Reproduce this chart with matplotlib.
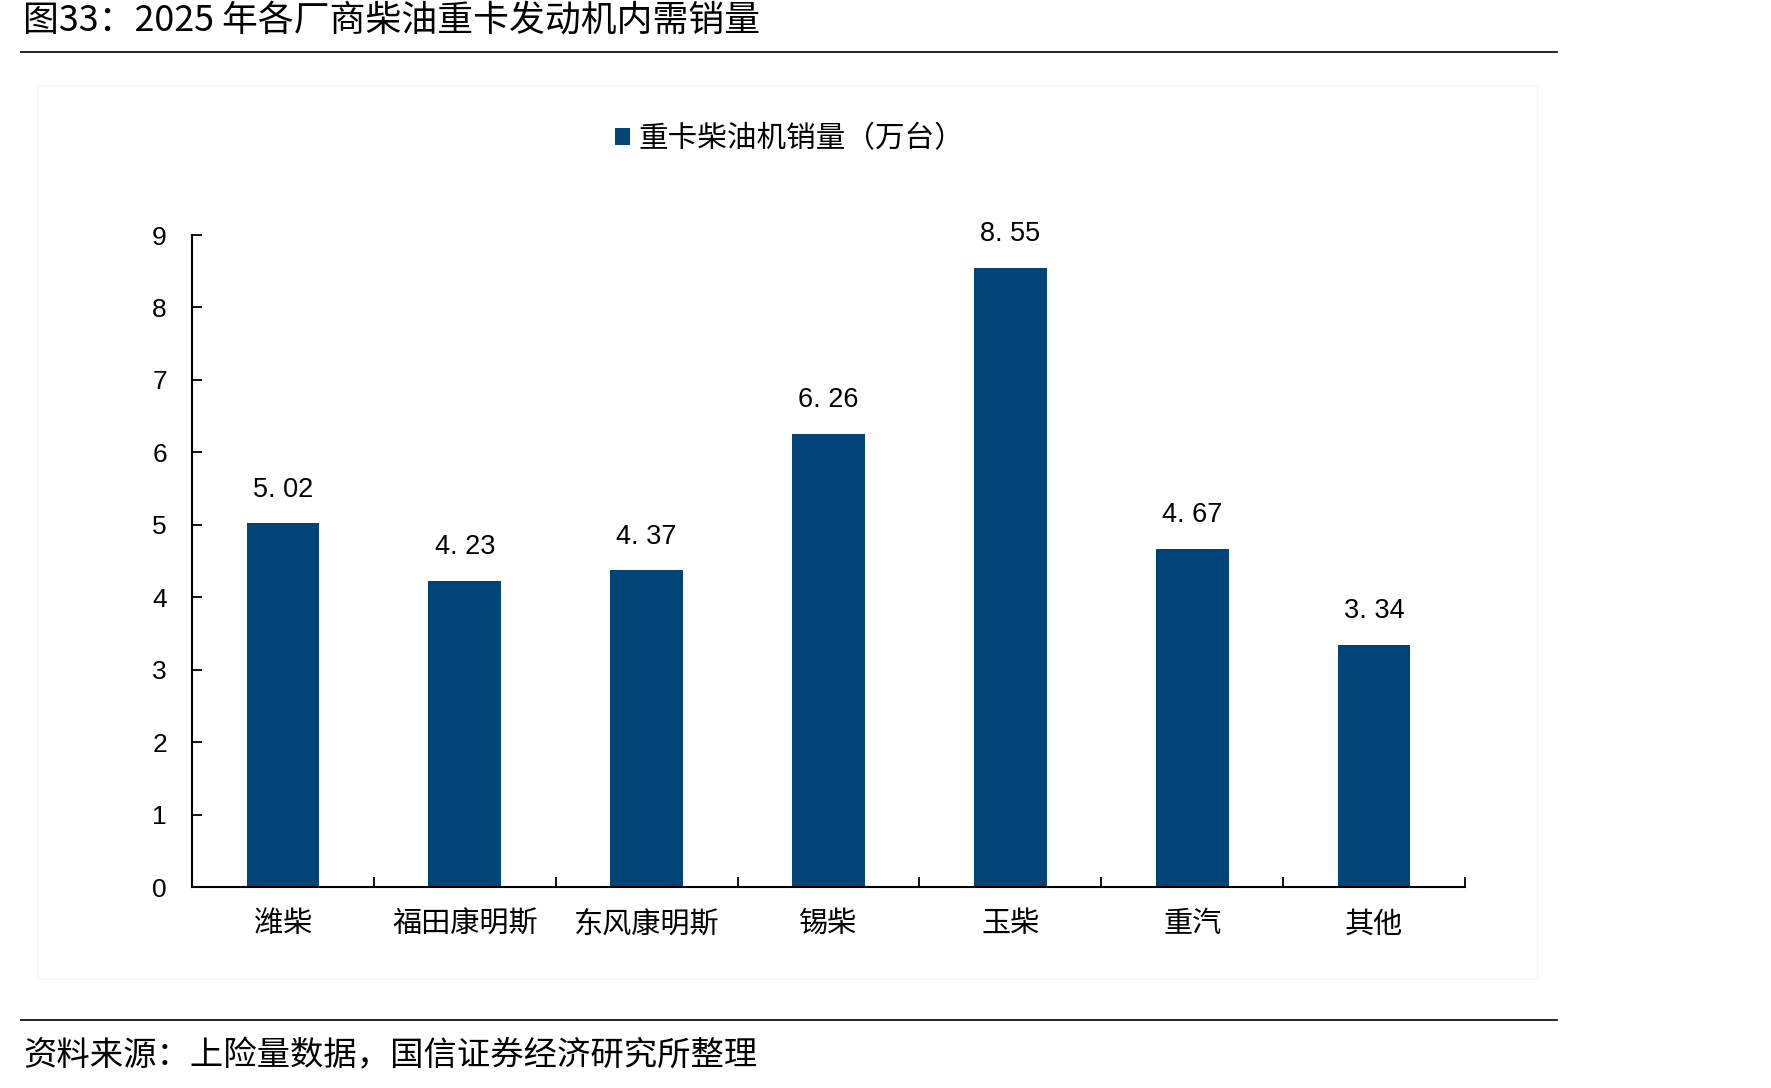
import matplotlib
matplotlib.use('Agg')
import matplotlib.pyplot as plt
from matplotlib.patches import Rectangle
from matplotlib.lines import Line2D

plt.rcParams['font.family'] = ['Noto Sans CJK SC', 'DejaVu Sans']

# data
makers = ['潍柴', '福田康明斯', '东风康明斯', '锡柴', '玉柴', '重汽', '其他']
sales = [5.02, 4.23, 4.37, 6.26, 8.55, 4.67, 3.34]
yticks = list(range(0, 10))
series_name = '重卡柴油机销量（万台）'
title = '图33：2025 年各厂商柴油重卡发动机内需销量'
source = '资料来源：上险量数据，国信证券经济研究所整理'

bar_color = '#014477'

fig = plt.figure(figsize=(17.71, 10.88), dpi=100)
ax = fig.add_axes([0.1084, 0.1847, 0.7188, 0.5993])

x = range(len(makers))
bars = ax.bar(x, sales, width=0.4, color=bar_color, label=series_name)

# value labels
for xi, v in zip(x, sales):
    ax.annotate(f'{v:.2f}'.replace('.', '. '), (xi, v), textcoords='offset points',
                xytext=(0, 15), ha='center', va='bottom', fontsize=19.5,
                family='Liberation Sans')

ax.set_xlim(-0.5, len(makers) - 0.5)
ax.set_ylim(0, 9)
ax.set_yticks(yticks)
ax.set_yticklabels([str(t) for t in yticks], family='Liberation Sans', fontsize=19)
ax.set_xticks(list(x))
ax.set_xticklabels(makers, fontsize=21)
ax.set_xticks([i - 0.5 for i in range(len(makers) + 1)], minor=True)
ax.tick_params(axis='x', which='major', length=0, pad=16)
ax.tick_params(axis='x', which='minor', direction='in', length=7, width=1.3)
ax.tick_params(axis='y', direction='in', length=7, width=1.3, pad=18)

for s in ['top', 'right']:
    ax.spines[s].set_visible(False)
for s in ['left', 'bottom']:
    ax.spines[s].set_linewidth(1.5)

fig.legend(handles=[bars], labels=[series_name], loc='center',
           bbox_to_anchor=(0.446, 0.873), frameon=False, fontsize=21.3,
           handlelength=0.5, handleheight=0.5, handletextpad=0.3)

# title, rules and source
fig.text(0.013, 0.981, title, fontsize=25.8, va='center', ha='left')
fig.add_artist(Line2D([0.012, 0.879], [0.952, 0.952], color='black', lw=1.2))
fig.add_artist(Line2D([0.012, 0.879], [0.0625, 0.0625], color='black', lw=1.2))
fig.text(0.013, 0.0294, source, fontsize=24, va='center', ha='left')

# faint frame around the chart area
fig.add_artist(Rectangle((0.021, 0.1), 0.847, 0.822, fill=False,
                         edgecolor='#f7f7f7', lw=1))

fig.savefig('out.png', dpi=100)
